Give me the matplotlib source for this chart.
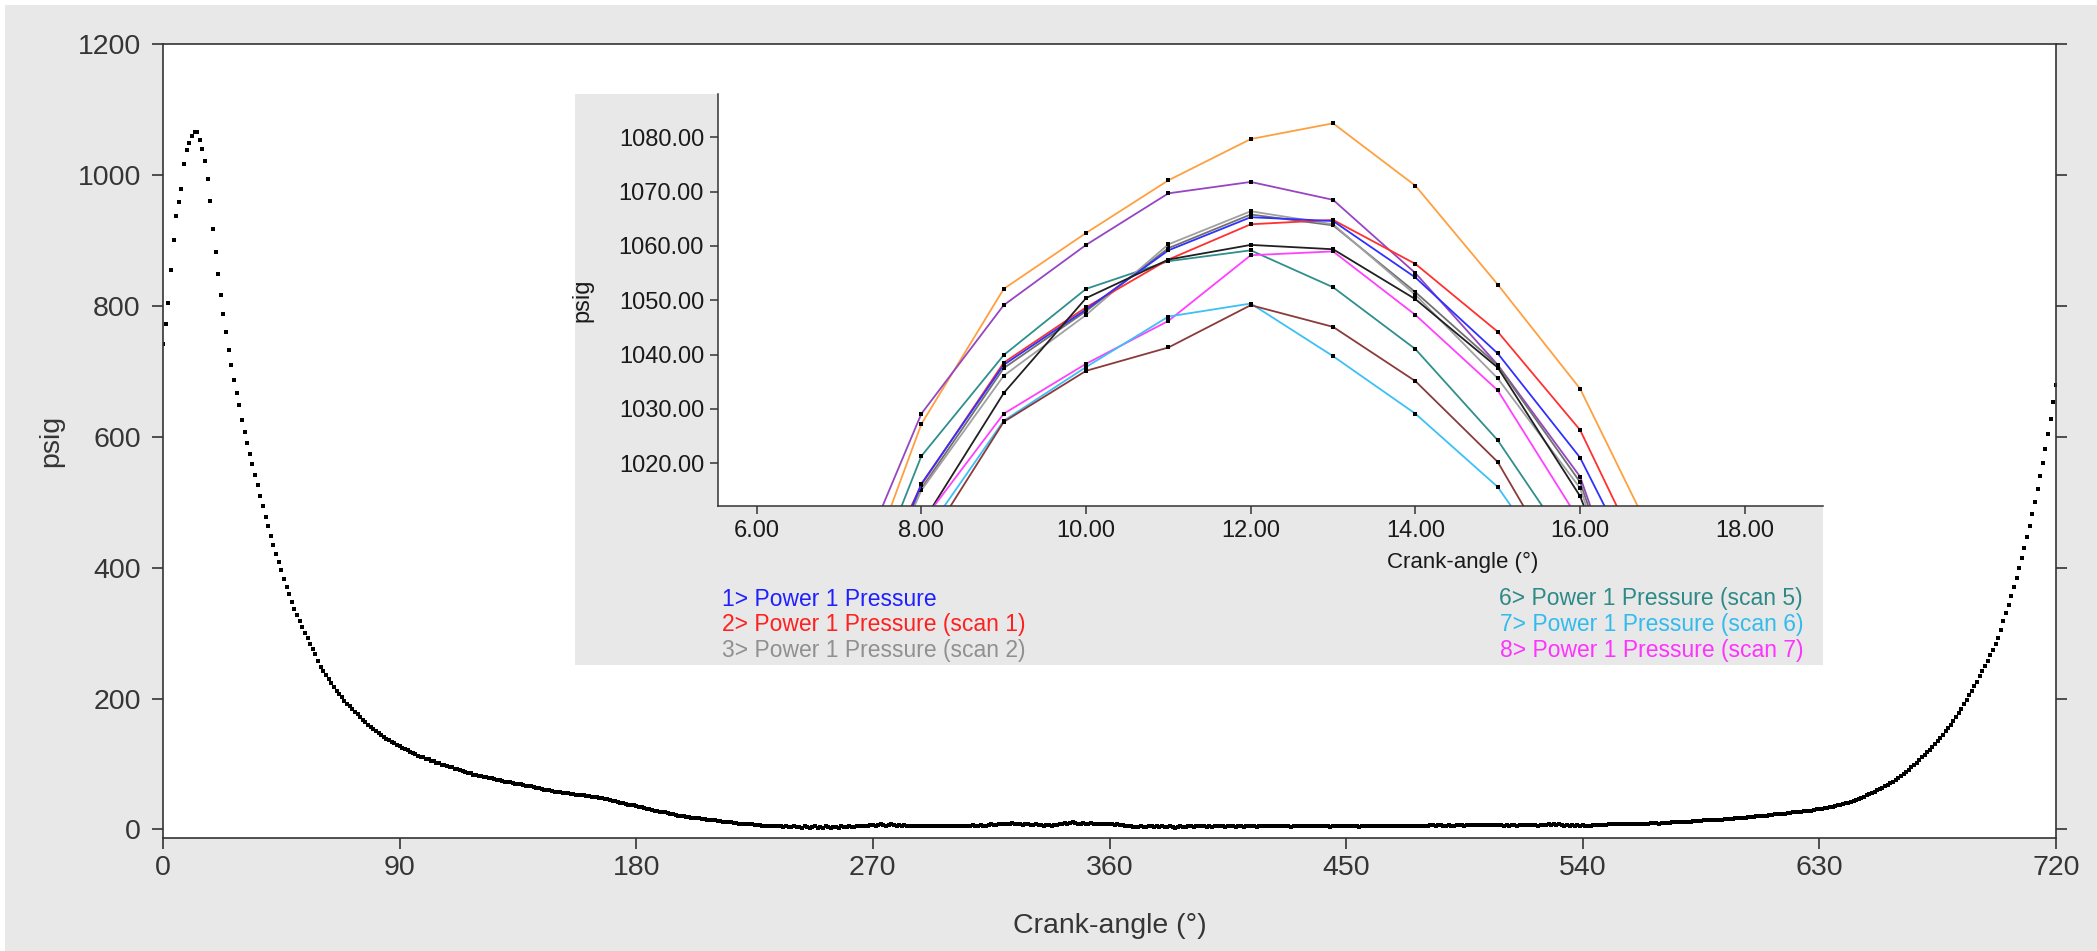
import numpy as np
import matplotlib
matplotlib.use("Agg")
import matplotlib.pyplot as plt
from matplotlib.patches import Rectangle

plt.rcParams['font.family'] = ['Liberation Sans', 'DejaVu Sans']

# main trace: pressure (psig) at each crank degree 0..720
pressure = [
    742, 772, 804, 855, 900, 937, 958, 979, 1016, 1038,
    1048, 1059, 1065, 1065, 1054, 1040, 1021, 994, 960, 918,
    883, 848, 816, 788, 760, 732, 709, 686, 667, 649,
    625, 607, 590, 574, 558, 542, 526, 510, 494, 478,
    463, 449, 435, 421, 408, 396, 383, 371, 359, 348,
    337, 327, 318, 309, 300, 292, 284, 276, 268, 257,
    249, 242, 236, 230, 224, 218, 212, 207, 202, 197,
    192, 188, 184, 180, 176, 172, 168, 164, 160, 157,
    154, 151, 148, 145, 142, 139, 137, 134, 132, 129,
    127, 125, 123, 121, 119, 117, 115, 113, 111, 110,
    108, 107, 105, 104, 102, 101, 99, 98, 97, 96,
    95, 93, 92, 91, 89, 88, 87, 86, 84, 83,
    82, 81, 80, 80, 79, 78, 77, 76, 75, 74,
    73, 73, 72, 71, 70, 69, 69, 68, 67, 66,
    66, 65, 64, 63, 62, 61, 61, 60, 59, 58,
    58, 57, 56, 56, 55, 54, 54, 53, 53, 52,
    52, 51, 51, 50, 50, 49, 48, 48, 47, 46,
    45, 44, 43, 42, 41, 40, 39, 38, 37, 37,
    36, 35, 34, 33, 32, 31, 30, 29, 28, 27,
    27, 26, 25, 24, 23, 22, 21, 21, 20, 19,
    19, 18, 18, 17, 17, 16, 16, 15, 15, 14,
    14, 13, 13, 12, 12, 11, 11, 10, 10, 9,
    9, 9, 8, 8, 8, 7, 7, 7, 6, 6,
    6, 6, 5, 5, 5, 5, 4, 5, 4, 4,
    5, 4, 4, 3, 5, 4, 3, 4, 5, 3,
    4, 3, 5, 4, 3, 4, 4, 3, 5, 4,
    4, 5, 4, 4, 5, 6, 5, 5, 6, 7,
    7, 6, 7, 8, 7, 6, 7, 8, 7, 6,
    7, 6, 7, 6, 5, 6, 6, 5, 6, 5,
    5, 6, 5, 5, 6, 5, 5, 6, 6, 5,
    6, 6, 5, 6, 6, 5, 6, 6, 7, 6,
    6, 7, 6, 6, 7, 8, 7, 7, 8, 9,
    8, 8, 9, 10, 9, 8, 8, 7, 8, 8,
    7, 7, 8, 7, 7, 6, 7, 7, 6, 7,
    7, 8, 9, 10, 9, 10, 11, 10, 9, 9,
    10, 9, 9, 10, 9, 9, 8, 9, 8, 8,
    8, 8, 7, 8, 7, 7, 6, 5, 5, 4,
    4, 4, 5, 4, 4, 5, 5, 4, 5, 4,
    5, 4, 4, 5, 4, 3, 4, 5, 4, 4,
    5, 5, 4, 5, 6, 5, 5, 4, 5, 4,
    5, 6, 5, 5, 4, 5, 6, 5, 4, 5,
    5, 4, 5, 6, 5, 5, 4, 5, 5, 6,
    5, 5, 6, 5, 5, 6, 5, 5, 5, 4,
    5, 5, 6, 5, 5, 5, 6, 5, 5, 5,
    6, 5, 5, 5, 4, 5, 5, 5, 6, 5,
    5, 5, 5, 5, 5, 4, 5, 5, 5, 5,
    5, 5, 5, 5, 5, 5, 5, 5, 5, 5,
    5, 5, 5, 6, 6, 6, 6, 6, 5, 5,
    6, 6, 7, 7, 6, 7, 7, 6, 6, 7,
    6, 6, 7, 7, 7, 6, 7, 7, 7, 7,
    7, 7, 7, 7, 7, 7, 7, 7, 7, 7,
    6, 7, 6, 7, 7, 6, 7, 7, 7, 7,
    7, 7, 7, 6, 7, 7, 7, 8, 7, 8,
    7, 8, 7, 6, 7, 6, 7, 6, 7, 6,
    7, 6, 6, 6, 7, 7, 7, 7, 7, 7,
    8, 8, 8, 8, 8, 8, 8, 8, 8, 9,
    9, 9, 9, 9, 9, 9, 10, 10, 10, 9,
    10, 10, 10, 10, 11, 11, 11, 12, 12, 12,
    12, 12, 13, 13, 13, 13, 14, 14, 14, 14,
    15, 15, 15, 15, 16, 16, 16, 16, 17, 17,
    18, 18, 18, 19, 19, 19, 20, 20, 21, 21,
    21, 22, 22, 23, 23, 23, 24, 24, 25, 25,
    26, 26, 27, 27, 28, 28, 29, 29, 30, 31,
    31, 32, 33, 33, 34, 35, 36, 37, 38, 39,
    40, 41, 42, 43, 45, 46, 48, 50, 52, 54,
    56, 58, 60, 62, 64, 66, 68, 71, 73, 76,
    79, 82, 85, 88, 91, 95, 98, 102, 106, 110,
    114, 118, 122, 126, 130, 135, 140, 145, 150, 155,
    160, 166, 172, 178, 184, 191, 198, 205, 212, 219,
    226, 234, 242, 250, 258, 266, 274, 283, 292, 305,
    318, 330, 343, 356, 370, 384, 399, 414, 430, 447,
    464, 482, 501, 520, 540, 560, 581, 604, 627, 653,
    679,
]
crank = np.arange(len(pressure))

# zoomed scans around the peak, crank angle 7..17 deg
zoom_angle = [7, 8, 9, 10, 11, 12, 13, 14, 15, 16, 17]
scans = {
    "orange":    [986, 1027.2, 1052.1, 1062.4, 1072.1, 1079.7, 1082.6, 1071.1, 1052.9, 1033.7, 1002.8],
    "purple":    [993, 1029.1, 1049.1, 1060.2, 1069.7, 1071.8, 1068.5, 1055.0, 1038.1, 1017.5, 974],
    "teal":      [983, 1021.3, 1039.9, 1052.1, 1057.2, 1059.2, 1052.4, 1041.0, 1024.2, 1001.8, 975],
    "darkgray":  [982, 1015.3, 1037.5, 1048.0, 1059.6, 1065.8, 1063.8, 1051.5, 1038.0, 1016.5, 972],
    "gray":      [980, 1015.0, 1036.1, 1047.3, 1060.3, 1066.4, 1064.0, 1051.0, 1035.6, 1015.4, 971],
    "red":       [984, 1016.0, 1038.5, 1048.7, 1057.5, 1064.0, 1064.8, 1056.7, 1044.2, 1026.1, 994.6],
    "blue":      [979, 1016.2, 1038.1, 1048.3, 1059.2, 1065.3, 1064.6, 1054.2, 1040.2, 1021.0, 991],
    "black":     [980, 1008.7, 1032.9, 1050.4, 1057.5, 1060.2, 1059.4, 1050.2, 1037.6, 1013.9, 975],
    "magenta":   [985, 1009.0, 1029.1, 1038.3, 1046.2, 1058.3, 1059.0, 1047.3, 1033.4, 1009.2, 980],
    "lightblue": [980, 1006.0, 1027.8, 1037.7, 1047.0, 1049.4, 1039.7, 1029.1, 1015.6, 993.8, 970],
    "brown":     [975, 1003.6, 1027.6, 1037.0, 1041.3, 1049.1, 1045.1, 1035.1, 1020.2, 994.2, 970],
}
colors = {
    "orange": "#ffa040", "purple": "#9645c3", "teal": "#2f8f8c",
    "darkgray": "#707070", "gray": "#a0a0a0", "red": "#ff3030",
    "blue": "#3030ff", "black": "#202020", "magenta": "#ff40ff",
    "lightblue": "#3cc0f5", "brown": "#8b3a3a",
}
legend_left = [("1> Power 1 Pressure", "#2020ff"),
               ("2> Power 1 Pressure (scan 1)", "#ff2020"),
               ("3> Power 1 Pressure (scan 2)", "#909090")]
legend_right = [("6> Power 1 Pressure (scan 5)", "#2e8a87"),
                ("7> Power 1 Pressure (scan 6)", "#33bbee"),
                ("8> Power 1 Pressure (scan 7)", "#ff33ff")]

W, H = 2097, 951
fig = plt.figure(figsize=(W / 100, H / 100), dpi=100, facecolor="white")
bg = "#e8e8e8"
fig.patches.append(Rectangle((5 / W, 0), 1, 1 - 5 / H, transform=fig.transFigure,
                             facecolor=bg, edgecolor="none", zorder=-5))

def box(x0, y0, x1, y1):
    return [x0 / W, 1 - y1 / H, (x1 - x0) / W, (y1 - y0) / H]

txt = "#353535"

# ---- main chart
ax = fig.add_axes(box(163, 44, 2056, 838))
ax.set_facecolor("white")
ax.plot(crank, pressure, ls="none", marker="s", ms=2.8, mew=0, color="black")
ax.set_xlim(0, 720)
ax.set_ylim(-13, 1200)
ax.set_xticks(range(0, 721, 90))
ax.set_yticks(range(0, 1201, 200))
ax.tick_params(axis="both", labelsize=20.5, labelcolor=txt, color="#333333",
               length=8, width=1.2, direction="out")
ax.tick_params(axis="y", right=True, pad=8)
ax.tick_params(axis="x", pad=4)
for s in ax.spines.values():
    s.set_color("#333333")
    s.set_linewidth(1.2)
ax.set_xlabel("Crank-angle (°)", fontsize=20.5, color=txt)
ax.set_ylabel("psig", fontsize=20.5, color=txt)
ax.xaxis.set_label_coords(0.5, -0.095)
ax.yaxis.set_label_coords(-0.052, 0.5)

# ---- inset panel
fig.patches.append(Rectangle((575 / W, 1 - 665 / H), (1823 - 575) / W, (665 - 94) / H,
                             transform=fig.transFigure, facecolor=bg,
                             edgecolor="none", zorder=1))
ins = fig.add_axes(box(718, 94, 1823, 506), zorder=2)
ins.set_facecolor("white")
for name, vals in scans.items():
    ins.plot(zoom_angle, vals, color=colors[name], lw=1.3, marker="s", ms=2.2,
             mfc="black", mec="black", mew=0)
ins.set_xlim(5.53, 18.95)
ins.set_ylim(1012.1, 1088)
ins.set_xticks(range(6, 19, 2))
ins.set_yticks(range(1020, 1081, 10))
ins.xaxis.set_major_formatter(matplotlib.ticker.FormatStrFormatter("%.2f"))
ins.yaxis.set_major_formatter(matplotlib.ticker.FormatStrFormatter("%.2f"))
ins.tick_params(labelsize=17, labelcolor="#1a1a1a", color="#333333",
                length=6, width=1.1, direction="out", pad=4)
ins.spines["top"].set_visible(False)
ins.spines["right"].set_visible(False)
for s in ("left", "bottom"):
    ins.spines[s].set_color("#333333")
    ins.spines[s].set_linewidth(1.1)
ins.set_ylabel("psig", fontsize=17, color="#1a1a1a")
ins.yaxis.set_label_coords(-0.113, 0.5)
fig.text(1463 / W, 1 - 562 / H, "Crank-angle (°)", fontsize=16, color="#1a1a1a",
         ha="center", va="center", zorder=3)

rows_y = [599, 625, 651]
for (label, c), yy in zip(legend_left, rows_y):
    fig.text(722 / W, 1 - yy / H, label, fontsize=16.5, color=c,
             ha="left", va="center", zorder=3)
for (label, c), yy in zip(legend_right, rows_y):
    fig.text(1803 / W, 1 - yy / H, label, fontsize=16.5, color=c,
             ha="right", va="center", zorder=3)

fig.savefig("out.png", dpi=100, facecolor=fig.get_facecolor())
